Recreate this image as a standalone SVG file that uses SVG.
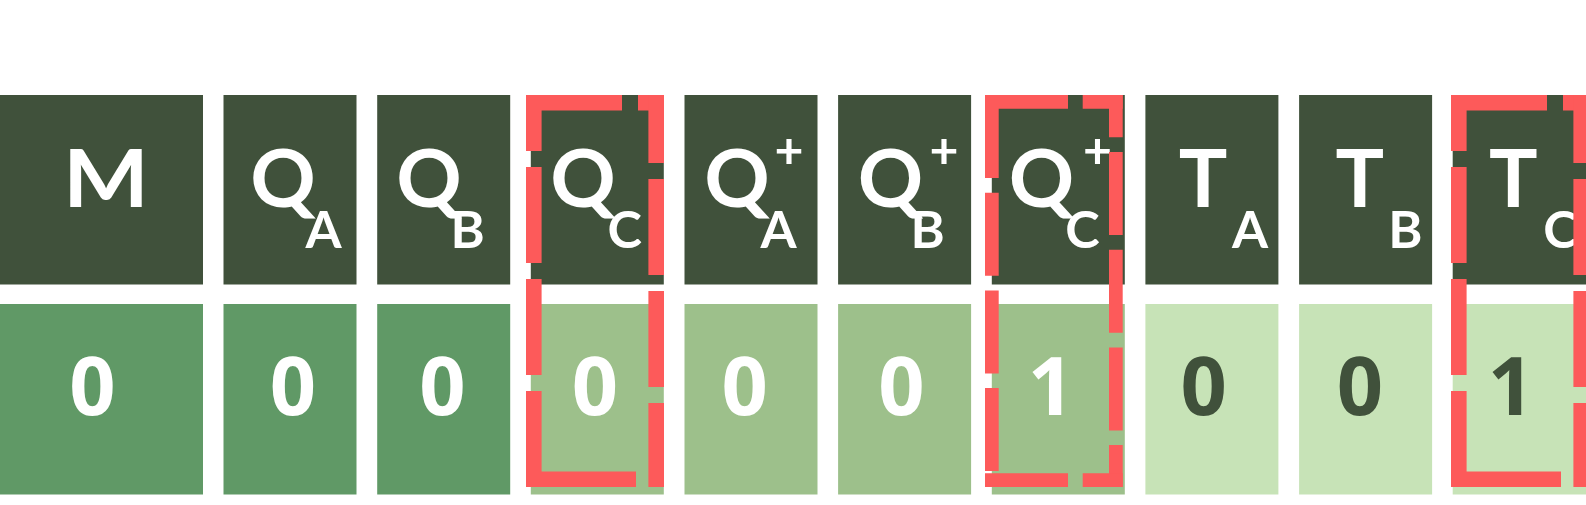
<svg xmlns="http://www.w3.org/2000/svg" width="1586" height="505" viewBox="0 0 1586 505">
<style>
.hd{fill:#40513b}
.v1{fill:#609966}
.v2{fill:#9dc08b}
.v3{fill:#c7e3b7}
.big{font-family:Lato,"Open Sans",sans-serif;font-weight:700;font-size:81px;fill:#fff;text-anchor:middle}
.s{font-size:52px}
.p{font-size:50px}
.num{font-family:"Open Sans",Lato,sans-serif;font-weight:700;font-size:81px;fill:#fff;text-anchor:middle}
.dk{fill:#40513b}
.hl{stroke:#fd5a5a;fill:none}
.w1{stroke-width:15.6;stroke-dasharray:96 16}
.w2{stroke-width:13.7;stroke-dasharray:83 14.7}
</style>
<rect width="1586" height="505" fill="#ffffff"/>
<g id="col-M">
<rect class="hd" x="0" y="95" width="203" height="189.5"/>
<rect class="v1" x="0" y="304" width="203" height="190.5"/>
<text class="big" x="106" y="206.5" textLength="86" lengthAdjust="spacingAndGlyphs">M</text>
<text class="num" x="92.5" y="414.5">0</text>
</g>
<g id="col-QA">
<rect class="hd" x="223.5" y="95" width="133" height="189.5"/>
<rect class="v1" x="223.5" y="304" width="133" height="190.5"/>
<text class="big" x="283" y="206.5">Q<tspan class="s" x="323.5" y="247.5">A</tspan></text>
<text class="num" x="293" y="414.5">0</text>
</g>
<g id="col-QB">
<rect class="hd" x="377.2" y="95" width="133" height="189.5"/>
<rect class="v1" x="377.2" y="304" width="133" height="190.5"/>
<text class="big" x="429" y="206.5">Q<tspan class="s" x="467.5" y="247.5">B</tspan></text>
<text class="num" x="442.3" y="414.5">0</text>
</g>
<g id="col-QC">
<rect class="hd" x="530.8" y="95" width="133" height="189.5"/>
<rect class="v2" x="530.8" y="304" width="133" height="190.5"/>
<text class="big" x="583" y="206.5">Q<tspan class="s" x="624.8" y="247.5">C</tspan></text>
<text class="num" x="595" y="414.5">0</text>
</g>
<g id="col-QA-plus">
<rect class="hd" x="684.5" y="95" width="133" height="189.5"/>
<rect class="v2" x="684.5" y="304" width="133" height="190.5"/>
<text class="big" x="737" y="206.5">Q<tspan class="p" x="789" y="168">+</tspan><tspan class="s" x="778.5" y="247.5">A</tspan></text>
<text class="num" x="744.6" y="414.5">0</text>
</g>
<g id="col-QB-plus">
<rect class="hd" x="838.1" y="95" width="133" height="189.5"/>
<rect class="v2" x="838.1" y="304" width="133" height="190.5"/>
<text class="big" x="890.4" y="206.5">Q<tspan class="p" x="944" y="168">+</tspan><tspan class="s" x="927.6" y="247.5">B</tspan></text>
<text class="num" x="901.3" y="414.5">0</text>
</g>
<g id="col-QC-plus">
<rect class="hd" x="991.8" y="95" width="133" height="189.5"/>
<rect class="v2" x="991.8" y="304" width="133" height="190.5"/>
<text class="big" x="1041.5" y="206.5">Q<tspan class="p" x="1097.5" y="168">+</tspan><tspan class="s" x="1082.5" y="247.5">C</tspan></text>
<text class="num" x="1051" y="414.5">1</text>
</g>
<g id="col-TA">
<rect class="hd" x="1145.4" y="95" width="133" height="189.5"/>
<rect class="v3" x="1145.4" y="304" width="133" height="190.5"/>
<text class="big" x="1203" y="206.5">T<tspan class="s" x="1250" y="247.5">A</tspan></text>
<text class="num dk" x="1203.7" y="414.5">0</text>
</g>
<g id="col-TB">
<rect class="hd" x="1299.1" y="95" width="133" height="189.5"/>
<rect class="v3" x="1299.1" y="304" width="133" height="190.5"/>
<text class="big" x="1359.8" y="206.5">T<tspan class="s" x="1405.4" y="247.5">B</tspan></text>
<text class="num dk" x="1359.8" y="414.5">0</text>
</g>
<g id="col-TC">
<rect class="hd" x="1452.7" y="95" width="133.3" height="189.5"/>
<rect class="v3" x="1452.7" y="304" width="133.3" height="190.5"/>
<text class="big" x="1513.4" y="206.5">T<tspan class="s" x="1560.4" y="247.5">C</tspan></text>
<text class="num dk" x="1511" y="414.5">1</text>
</g>
<g id="highlights">
<g id="hl-QC">
<line class="hl w1" x1="526" y1="102.8" x2="664" y2="102.8"/>
<line class="hl w1" x1="656.2" y1="95" x2="656.2" y2="487" stroke-dashoffset="28"/>
<line class="hl w1" x1="540" y1="479.2" x2="648" y2="479.2"/>
<line class="hl w1" x1="533.8" y1="487" x2="533.8" y2="95"/>
</g>
<g id="hl-QC-plus">
<line class="hl w2" x1="985" y1="101.85" x2="1122.7" y2="101.85"/>
<line class="hl w2" x1="1115.85" y1="95" x2="1115.85" y2="487" stroke-dashoffset="40.7"/>
<line class="hl w2" x1="985" y1="480.15" x2="1122.7" y2="480.15"/>
<line class="hl w2" x1="991.85" y1="95" x2="991.85" y2="487"/>
</g>
<g id="hl-TC">
<line class="hl w1" x1="1451" y1="102.8" x2="1589" y2="102.8"/>
<line class="hl w1" x1="1581.2" y1="95" x2="1581.2" y2="487" stroke-dashoffset="28"/>
<line class="hl w1" x1="1465" y1="479.2" x2="1573" y2="479.2"/>
<line class="hl w1" x1="1458.8" y1="487" x2="1458.8" y2="95"/>
</g>
</g>
</svg>
